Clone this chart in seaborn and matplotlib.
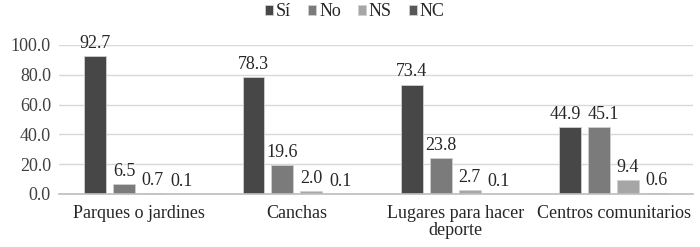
import matplotlib
matplotlib.use("Agg")
import matplotlib.pyplot as plt
import seaborn as sns
import pandas as pd

categories = ["Parques o jardines", "Canchas", "Lugares para hacer\ndeporte", "Centros comunitarios"]
series = ["Sí", "No", "NS", "NC"]
si = [92.7, 78.3, 73.4, 44.9]
no = [6.5, 19.6, 23.8, 45.1]
ns = [0.7, 2.0, 2.7, 9.4]
nc = [0.1, 0.1, 0.1, 0.6]
colors = ["#474747", "#7b7b7b", "#a6a6a6", "#575757"]

rows = []
for name, vals in zip(series, [si, no, ns, nc]):
    for c, v in zip(categories, vals):
        rows.append({"cat": c, "serie": name, "val": v})
df = pd.DataFrame(rows)

sns.set_theme(style="white")
plt.rcParams["font.family"] = ["Liberation Serif", "DejaVu Serif"]
FS = 13

fig = plt.figure(figsize=(7.0, 2.47), dpi=100)
ax = fig.add_axes([0.0847, 0.215, 0.905, 0.603])
sns.barplot(data=df, x="cat", y="val", hue="serie", palette=colors, order=categories,
            hue_order=series, width=0.73, gap=0.24, ax=ax, edgecolor="#d0d0d0", linewidth=0.6,
            saturation=1)
labels = []
for cont in ax.containers:
    labels.append(ax.bar_label(cont, fmt="%.1f", padding=3, fontsize=FS, color="#262626"))

# nudge the two overlapping labels of the last group apart, as in the reference
t_si = labels[0][3]
t_no = labels[1][3]
x0, y0 = t_si.xyann
t_si.xyann = (x0 - 3.2, y0)
x1, y1 = t_no.xyann
t_no.xyann = (x1 + 3.2, y1)

ax.set_ylim(0, 100)
ax.set_yticks([0, 20, 40, 60, 80, 100])
ax.set_yticklabels([f"{v:.1f}" for v in [0, 20, 40, 60, 80, 100]], fontsize=FS, color="#404040")
ax.tick_params(axis="x", labelsize=FS, colors="#262626", length=0, pad=8)
ax.tick_params(axis="y", length=0, pad=6)
ax.set_xlabel("")
ax.set_ylabel("")
ax.yaxis.grid(True, color="#d9d9d9", linewidth=1)
ax.set_axisbelow(True)
for s in ["top", "right", "left"]:
    ax.spines[s].set_visible(False)
ax.spines["bottom"].set_color("#bfbfbf")
ax.set_xlim(-0.5, 3.5)
for lbl in ax.get_xticklabels():
    lbl.set_color("#262626")
    lbl.set_linespacing(1.0)

h, l = ax.get_legend_handles_labels()
ax.legend(h, l, loc="center", bbox_to_anchor=(0.507, 0.952), bbox_transform=fig.transFigure,
          ncol=4, frameon=False, fontsize=FS, handlelength=0.45, handleheight=0.45,
          handletextpad=0.15, columnspacing=0.95, borderpad=0)

fig.savefig("out.png", dpi=100)
